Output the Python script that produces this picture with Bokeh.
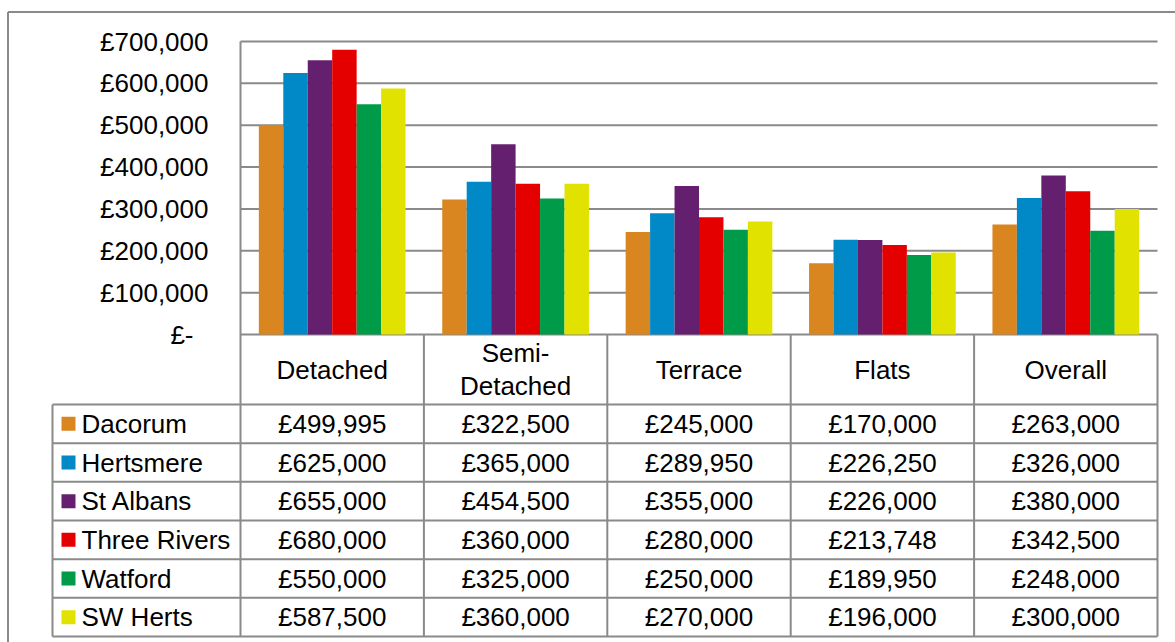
from bokeh.plotting import figure
from bokeh.models import ColumnDataSource, Range1d
from bokeh.core.properties import value
from bokeh.embed import file_html
from bokeh.resources import INLINE

# ---------------- data ----------------
categories = ["Detached", "Semi-\nDetached", "Terrace", "Flats", "Overall"]
areas = ["Dacorum", "Hertsmere", "St Albans", "Three Rivers", "Watford", "SW Herts"]
dacorum = [499995, 322500, 245000, 170000, 263000]
hertsmere = [625000, 365000, 289950, 226250, 326000]
st_albans = [655000, 454500, 355000, 226000, 380000]
three_rivers = [680000, 360000, 280000, 213748, 342500]
watford = [550000, 325000, 250000, 189950, 248000]
sw_herts = [587500, 360000, 270000, 196000, 300000]
y_ticks = [0, 100000, 200000, 300000, 400000, 500000, 600000, 700000]
y_tick_labels = ["£-", "£100,000", "£200,000", "£300,000", "£400,000",
                 "£500,000", "£600,000", "£700,000"]

series = [dacorum, hertsmere, st_albans, three_rivers, watford, sw_herts]
colors = ["#DA8620", "#0089C6", "#64206E", "#E50000", "#009B48", "#E2E200"]

# ---------------- layout (page pixels) ----------------
W, H = 1175, 642
OX, OY = 0, 0
PLOT_L, PLOT_R = 240, 1157
COLW = (PLOT_R - PLOT_L) / len(categories)
Y0_PX, YTOP_PX = 334, 41
YMAX = 700000
PX_PER_UNIT = (Y0_PX - YTOP_PX) / YMAX
ROW_TOP = 404
ROW_H = 38.67
LEG_L = 52
FONT = value("Liberation Sans")
FS = "26px"
GRID = "#8a8a8a"


def xd(px):
    return (px - PLOT_L) / COLW


def yd(py):
    return (Y0_PX - py) / PX_PER_UNIT


p = figure(width=W, height=H,
           x_range=Range1d(xd(OX), xd(OX + W)),
           y_range=Range1d(yd(OY + H), yd(OY)),
           x_axis_location=None, y_axis_location=None,
           min_border=0, toolbar_location=None, output_backend="svg",
           outline_line_color=None, background_fill_color="white")
p.grid.visible = False

ncat = len(categories)
nser = len(series)
bottom_y = yd(ROW_TOP + ROW_H * nser)

# gridlines
p.segment(x0=[0] * len(y_ticks), x1=[ncat] * len(y_ticks),
          y0=y_ticks, y1=y_ticks, line_color=GRID, line_width=2)

# table / plot vertical lines
vx = list(range(ncat + 1))
vtop = [YMAX] + [0] * ncat
p.segment(x0=vx, x1=vx, y0=vtop, y1=[bottom_y] * len(vx),
          line_color=GRID, line_width=2)
# legend column left line
p.segment(x0=[xd(LEG_L)], x1=[xd(LEG_L)], y0=[yd(ROW_TOP)], y1=[bottom_y],
          line_color=GRID, line_width=2)
# horizontal row lines
row_lines = [yd(ROW_TOP + ROW_H * k) for k in range(nser + 1)]
p.segment(x0=[xd(LEG_L)] * len(row_lines), x1=[ncat] * len(row_lines),
          y0=row_lines, y1=row_lines, line_color=GRID, line_width=2)

# outer border (left and top)
p.segment(x0=[xd(7.5), xd(7.5)], x1=[xd(7.5), xd(OX + W)],
          y0=[yd(11.5), yd(11.5)], y1=[yd(OY + H), yd(11.5)],
          line_color=GRID, line_width=2)

# bars
group = 0.8
bw = group / nser
for j, (vals, col) in enumerate(zip(series, colors)):
    xs = [i + 0.5 - group / 2 + bw * (j + 0.5) for i in range(ncat)]
    src = ColumnDataSource(dict(x=xs, top=vals))
    p.vbar(x="x", top="top", bottom=0, width=bw, source=src,
           fill_color=col, line_color=None)

# y tick labels
tick_x_off = [-15] + [0] * (len(y_ticks) - 1)
p.text(x=[xd(208)] * len(y_ticks), y=y_ticks, text=y_tick_labels,
       x_offset=tick_x_off,
       text_align="right", text_baseline="middle",
       text_font=FONT, text_font_size=FS, text_color="black")

# header labels
p.text(x=[i + 0.5 for i in range(ncat)], y=[yd(369)] * ncat, text=categories,
       text_align="center", text_baseline="middle", text_line_height=1.08,
       text_font=FONT, text_font_size=FS, text_color="black")

# table values
tx, ty, tt = [], [], []
for j, vals in enumerate(series):
    yc = yd(ROW_TOP + ROW_H * (j + 0.5))
    for i, v in enumerate(vals):
        tx.append(i + 0.5)
        ty.append(yc)
        tt.append("£{:,}".format(v))
p.text(x=tx, y=ty, text=tt, text_align="center", text_baseline="middle",
       text_font=FONT, text_font_size=FS, text_color="black")

# legend keys and names
row_c = [yd(ROW_TOP + ROW_H * (j + 0.5)) for j in range(nser)]
p.scatter(x=[xd(68)] * nser, y=row_c, marker="square", size=14,
          fill_color=colors, line_color=None)
p.text(x=[xd(81)] * nser, y=row_c, text=areas,
       text_align="left", text_baseline="middle",
       text_font=FONT, text_font_size=FS, text_color="black")

open("out.html", "w").write(file_html(p, INLINE))
